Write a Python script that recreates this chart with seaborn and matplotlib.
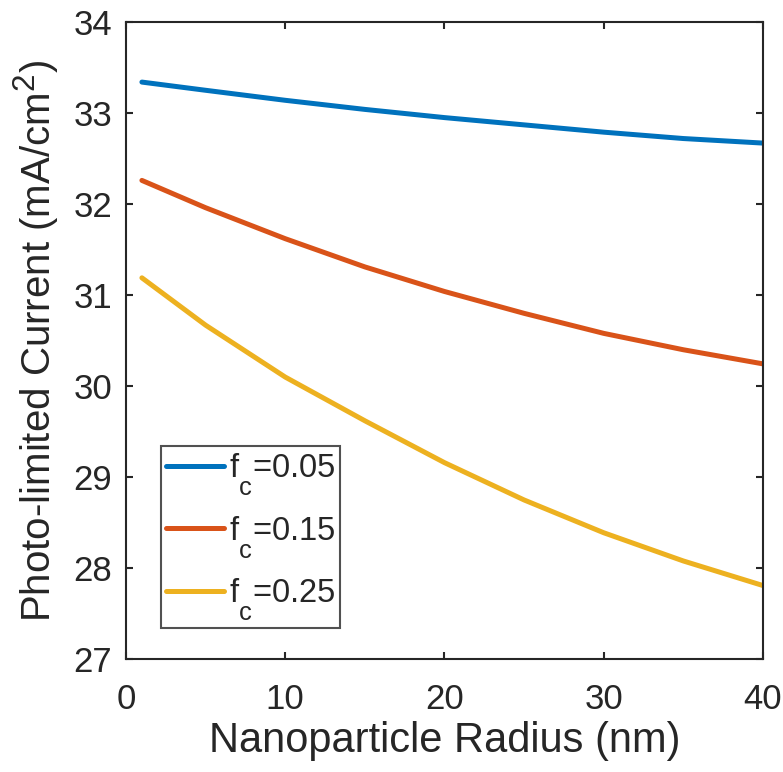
import numpy as np
import pandas as pd
import seaborn as sns
import matplotlib
matplotlib.use("Agg")
import matplotlib.pyplot as plt
import matplotlib._mathtext as mathtext_impl

# Nanoparticle radius (nm) at which the photo-limited current was evaluated
radius_nm = [1, 5, 10, 15, 20, 25, 30, 35, 40]

# Photo-limited current (mA/cm^2) for each coverage fraction f_c
current_fc005 = [33.34, 33.25, 33.14, 33.04, 32.95, 32.87, 32.79, 32.72, 32.67]
current_fc015 = [32.26, 31.96, 31.62, 31.31, 31.04, 30.80, 30.58, 30.40, 30.245]
current_fc025 = [31.19, 30.67, 30.10, 29.62, 29.16, 28.75, 28.39, 28.08, 27.81]

series_labels = [r"$\mathregular{f_c}$=0.05",
                 r"$\mathregular{f_c}$=0.15",
                 r"$\mathregular{f_c}$=0.25"]
series_colors = ["#0072BD", "#D95319", "#EDB120"]

x_ticks = [0, 10, 20, 30, 40]
y_ticks = [27, 28, 29, 30, 31, 32, 33, 34]

df = pd.DataFrame({
    "radius": radius_nm * 3,
    "current": current_fc005 + current_fc015 + current_fc025,
    "series": [series_labels[0]] * len(radius_nm)
              + [series_labels[1]] * len(radius_nm)
              + [series_labels[2]] * len(radius_nm),
})

sns.set_theme(style="white")
plt.rcParams["font.family"] = ["Liberation Sans", "DejaVu Sans"]
plt.rcParams["mathtext.fontset"] = "custom"
plt.rcParams["mathtext.rm"] = "Liberation Sans"
# MATLAB-style scripts: larger and dropped lower
mathtext_impl.FontConstantsBase.sub1 = 1.05
mathtext_impl.SHRINK_FACTOR = 0.78

fig = plt.figure(figsize=(7.83, 7.72), dpi=100)
ax = fig.add_axes([0.1609, 0.146, 0.8135, 0.8255])

sns.lineplot(data=df, x="radius", y="current", hue="series",
             palette=series_colors, linewidth=3.6, ax=ax, legend=True)

ax.set_xlim(0, 40)
ax.set_ylim(27, 34)
ax.set_xticks(x_ticks)
ax.set_yticks(y_ticks)

axis_color = "#262626"
for side in ["left", "right", "top", "bottom"]:
    ax.spines[side].set_visible(True)
    ax.spines[side].set_color(axis_color)
    ax.spines[side].set_linewidth(1.5)

ax.tick_params(axis="both", which="both", direction="in", length=4.8, width=1.5,
               top=True, right=True, bottom=True, left=True,
               labelsize=25, colors=axis_color)
ax.tick_params(axis="x", pad=17)
ax.tick_params(axis="y", pad=10)

ax.set_xlabel("Nanoparticle Radius (nm)", fontsize=30, color=axis_color, labelpad=4)
ax.set_ylabel(r"Photo-limited Current (mA/cm$\mathregular{^2}$)", fontsize=29,
              color=axis_color, labelpad=9)

handles, labels = ax.get_legend_handles_labels()
leg = ax.legend(handles, labels, loc="lower left", bbox_to_anchor=(0.0545, 0.049),
                fontsize=23.5, frameon=True, fancybox=False, handlelength=1.8,
                handletextpad=0.15, borderpad=0.15, labelspacing=0.48,
                borderaxespad=0)
leg.get_frame().set_edgecolor(axis_color)
leg.get_frame().set_linewidth(1.5)
for line in leg.get_lines():
    line.set_linewidth(3.6)

fig.savefig("out.png", dpi=100, facecolor="white")
